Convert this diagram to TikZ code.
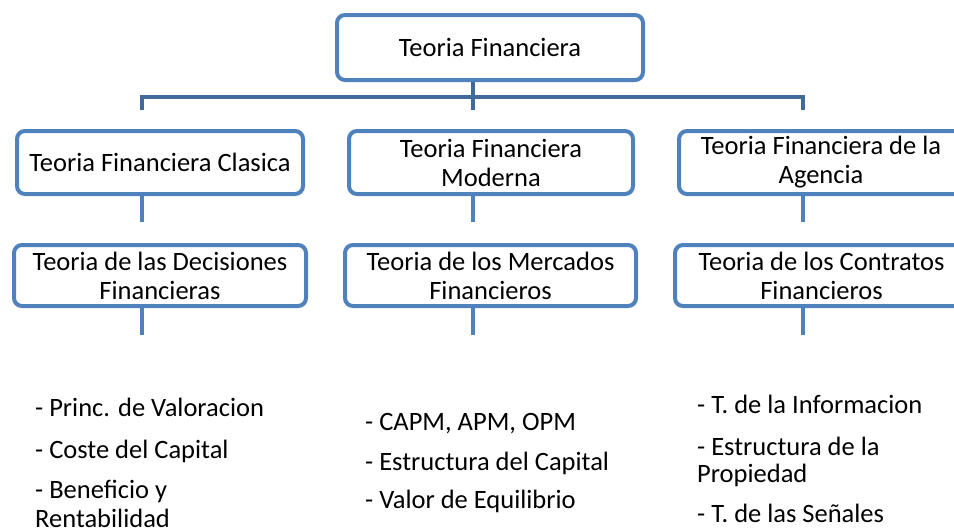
\documentclass[tikz,border=0pt]{standalone}
\usepackage{fontspec}
\setmainfont{Carlito}
\definecolor{boxblue}{RGB}{79,129,189}
\definecolor{barblue}{RGB}{65,105,155}
\tikzset{
  box/.style={draw=boxblue, line width=4pt, rounded corners=8pt, fill=white,
    inner sep=0pt, align=center, minimum height=63pt,
    font=\fontsize{26.5}{29}\selectfont},
  stub/.style={draw=boxblue, line width=4.5pt},
  bar/.style={draw=barblue, line width=4.5pt},
  item/.style={anchor=base west, inner sep=0pt, font=\fontsize{26.5}{29}\selectfont}
}
\begin{document}
\begin{tikzpicture}[x=1pt, y=-1pt]
\useasboundingbox (0,0) rectangle (954,530);
\clip (0,0) rectangle (954,530);
\fill[white] (0,0) rectangle (954,530);
% columns of the tree
\coordinate (C_0) at (142,0);
\coordinate (C_1) at (473,0);
\coordinate (C_2) at (803,0);
% top
\node[box, minimum width=306pt, minimum height=65pt] (T) at (490,47.5) {Teoria Financiera};
\coordinate (B_0) at (142,110);
\coordinate (B_1) at (473,110);
\coordinate (B_2) at (803,110);
\draw[bar] (T.south -| C_1) -- (B_1);
\draw[bar] (B_0) -- (142,97) -- (803,97) -- (B_2);
% first level
\node[box, minimum width=286pt] (P_0_0) at (160,162.5) {Teoria Financiera Clasica};
\node[box, minimum width=284pt] (P_0_1) at (491,162.5) {Teoria Financiera\\Moderna};
\node[box, minimum width=284pt] (P_0_2) at (821,162.5) {Teoria Financiera de la\\Agencia};
\coordinate (S_0) at (142,222);
\coordinate (S_1) at (473,222);
\coordinate (S_2) at (803,222);
\draw[stub] (P_0_0.south -| C_0) -- (S_0);
\draw[stub] (P_0_1.south -| C_1) -- (S_1);
\draw[stub] (P_0_2.south -| C_2) -- (S_2);
% second level
\node[box, minimum width=292pt, minimum height=61pt] (P_1_0) at (160,275.5) {Teoria de las Decisiones\\Financieras};
\node[box, minimum width=291pt, minimum height=61pt] (P_1_1) at (490.5,275.5) {Teoria de los Mercados\\Financieros};
\node[box, minimum width=293pt, minimum height=61pt] (P_1_2) at (821.5,275.5) {Teoria de los Contratos\\Financieros};
\coordinate (E_0) at (142,335);
\coordinate (E_1) at (473,335);
\coordinate (E_2) at (803,335);
\draw[stub] (P_1_0.south -| C_0) -- (E_0);
\draw[stub] (P_1_1.south -| C_1) -- (E_1);
\draw[stub] (P_1_2.south -| C_2) -- (E_2);
% lists
\node[item] (L_0_0) at (35,416) {- Princ. de Valoracion};
\node[item] (L_0_1) at (35,458) {- Coste del Capital};
\node[item] (L_0_2) at (35,498) {- Beneficio y};
\node[item] (L_0_3) at (35,527) {Rentabilidad};
\node[item] (L_1_0) at (365,430) {- CAPM, APM, OPM};
\node[item] (L_1_1) at (365,470) {- Estructura del Capital};
\node[item] (L_1_2) at (365,508) {- Valor de Equilibrio};
\node[item] (L_2_0) at (697,413) {- T. de la Informacion};
\node[item] (L_2_1) at (697,455) {- Estructura de la};
\node[item] (L_2_2) at (697,482) {Propiedad};
\node[item] (L_2_3) at (697,522) {- T. de las Señales};
\end{tikzpicture}
\end{document}
